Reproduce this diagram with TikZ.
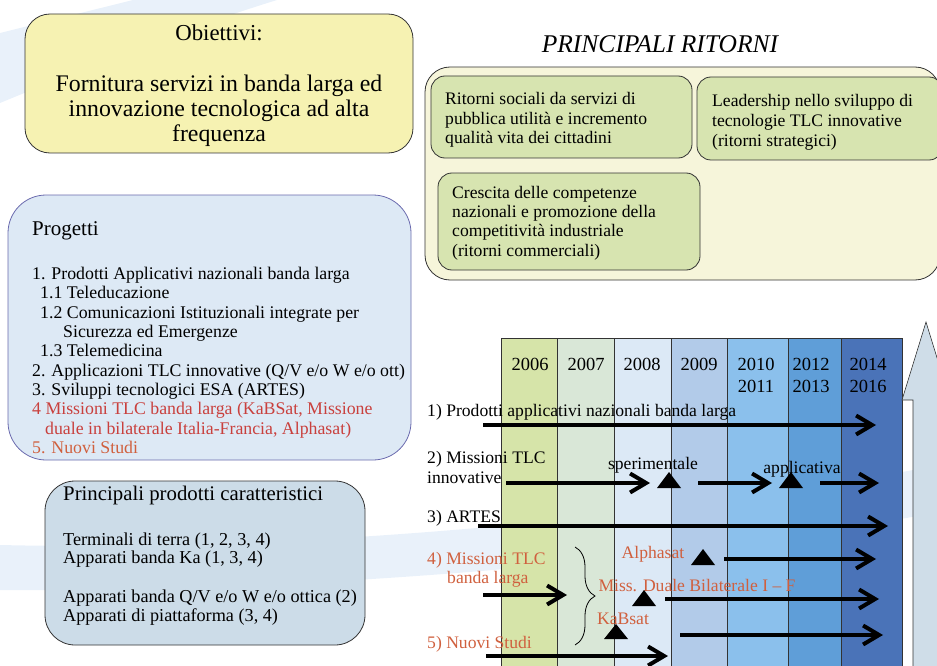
\documentclass[tikz,border=0pt]{standalone}
\usepackage{fontspec}
\setmainfont{Liberation Serif}
\usetikzlibrary{arrows.meta,decorations.pathreplacing}

\definecolor{swoosh}{HTML}{E9F1FA}
\definecolor{objfill}{HTML}{F6F2B2}
\definecolor{retfill}{HTML}{F6F5DA}
\definecolor{grnfill}{HTML}{D7E4B0}
\definecolor{prjfill}{HTML}{DDE9F5}
\definecolor{prjline}{HTML}{6A6AAE}
\definecolor{prdfill}{HTML}{CCDCE8}
\definecolor{edge}{HTML}{333333}
\definecolor{redtxt}{HTML}{C9403D}
\definecolor{orgtxt}{HTML}{D0603E}
\definecolor{yrA}{HTML}{D6E4A9}
\definecolor{yrB}{HTML}{D9E7D7}
\definecolor{yrC}{HTML}{DCE9F6}
\definecolor{yrD}{HTML}{B2CBE9}
\definecolor{yrE}{HTML}{8BC0EC}
\definecolor{yrF}{HTML}{5F9ED8}
\definecolor{yrG}{HTML}{4A73B8}
\definecolor{upfill}{HTML}{CFDDE8}

\newcommand\setfs[2]{\fontsize{#1}{#2}\selectfont}

\tikzset{
  rbox/.style={draw=edge, line width=0.8pt, inner sep=0pt},
  txt/.style={inner sep=0pt, align=left, text=black},
  yr/.style={inner sep=0pt, align=center, font=\setfs{18.5}{22}},
  tl/.style={inner sep=0pt, align=left, anchor=west, font=\setfs{17.6}{20}},
  tag/.style={inner sep=0pt, font=\setfs{17.6}{18}},
  bar/.style={line width=4pt, -{Straight Barb[length=16pt,width=19pt]}},
  milestone/.style={fill=black},
  col/.style={draw=edge, line width=0.8pt},
}

\begin{document}
\begin{tikzpicture}[x=1pt,y=-1pt]
\useasboundingbox (0,0) rectangle (937,666);

% faint background swooshes
\fill[swoosh] (0,33) -- (133,0) -- (277,0) .. controls (180,30) and (80,70) .. (0,103) -- cycle;
\fill[swoosh] (0,545) .. controls (300,552) and (650,520) .. (940,465)
  -- (940,512) .. controls (650,565) and (300,592) .. (0,590) -- cycle;

% objectives
\node[rbox, fill=objfill, rounded corners=25pt, minimum width=388pt, minimum height=139pt] (obj) at (219,83.5) {};
\node[txt, align=center, font=\setfs{23.8}{25.3}] (objtxt) at (219,86)
  {{\fontsize{22.8}{25.3}\selectfont Obiettivi:}\\[25.3pt]Fornitura servizi in banda larga ed\\innovazione tecnologica ad alta\\frequenza};

% main returns
\node[inner sep=0pt, font=\setfs{25.5}{28}\itshape] (rettitle) at (660,44) {PRINCIPALI RITORNI};
\node[rbox, fill=retfill, rounded corners=25pt, minimum width=515pt, minimum height=213pt] (ret) at (682.5,173.5) {};
\node[rbox, fill=grnfill, rounded corners=14pt, minimum width=261pt, minimum height=82pt] (retA) at (561.5,117) {};
\node[rbox, fill=grnfill, rounded corners=14pt, minimum width=246pt, minimum height=83pt] (retB) at (820,118.5) {};
\node[rbox, fill=grnfill, rounded corners=14pt, minimum width=262pt, minimum height=97pt] (retC) at (569,221.5) {};
\node[txt, anchor=west, font=\setfs{17.6}{19.3}] (retAtxt) at (445,120)
  {Ritorni sociali da servizi di\\pubblica utilit\`a e incremento\\qualit\`a vita dei cittadini};
\node[txt, anchor=west, font=\setfs{17.6}{19.8}] (retBtxt) at (712,122)
  {Leadership nello sviluppo di\\tecnologie TLC innovative\\(ritorni strategici)};
\node[txt, anchor=west, font=\setfs{17.6}{19.3}] (retCtxt) at (452,223)
  {Crescita delle competenze\\nazionali e promozione della\\competitivit\`a industriale\\(ritorni commerciali)};

% projects
\node[draw=prjline, line width=0.8pt, fill=prjfill, rounded corners=38pt, minimum width=403pt, minimum height=265pt, inner sep=0pt] (prj) at (209.5,327.5) {};
\node[txt, anchor=west, font=\setfs{21}{22}] (prjtitle) at (32,231) {Progetti};
\node[txt, anchor=west, font=\setfs{17.8}{19.35}] (prjlist) at (32,360.5)
  {1. Prodotti Applicativi nazionali banda larga\\
   \hspace*{8pt}1.1 Teleducazione\\
   \hspace*{8pt}1.2 Comunicazioni Istituzionali integrate per\\
   \hspace*{31pt}Sicurezza ed Emergenze\\
   \hspace*{8pt}1.3 Telemedicina\\
   2. Applicazioni TLC innovative (Q/V e/o W e/o ott)\\
   3. Sviluppi tecnologici ESA (ARTES)\\
   \textcolor{redtxt}{4 Missioni TLC banda larga (KaBSat, Missione}\\
   \hspace*{13pt}\textcolor{redtxt}{duale in bilaterale Italia-Francia, Alphasat)}\\
   \textcolor{orgtxt}{5. Nuovi Studi}};

% products
\node[rbox, fill=prdfill, rounded corners=30pt, minimum width=320pt, minimum height=164pt] (prd) at (205,563) {};
\node[txt, anchor=west, font=\setfs{20.8}{22}] (prdtitle) at (63,495) {Principali prodotti caratteristici};
\node[txt, anchor=west, font=\setfs{18.2}{18.5}] (prdA) at (63,550)
  {Terminali di terra (1, 2, 3, 4)\\Apparati banda Ka (1, 3, 4)};
\node[txt, anchor=west, font=\setfs{18.2}{18.5}] (prdB) at (63,607.5)
  {Apparati banda Q/V e/o W e/o ottica (2)\\Apparati di piattaforma (3, 4)};

% timeline columns
\fill[yrA] (501,338) rectangle (557,670);
\fill[yrB] (557,338) rectangle (614,670);
\fill[yrC] (614,338) rectangle (671,670);
\fill[yrD] (671,338) rectangle (727,670);
\fill[yrE] (727,338) rectangle (788,670);
\fill[yrF] (788,338) rectangle (841,670);
\fill[yrG] (841,338) rectangle (902,670);
\draw[col] (501,670) -- (501,338) -- (902,338) -- (902,670);
\foreach \cx in {557,614,671,727,788,841} \draw[col] (\cx,338) -- (\cx,670);

% growth arrow
\draw[draw=edge, line width=0.6pt, fill=upfill] (913,670) -- (913,400) -- (902,400) -- (926,322) -- (950,400) -- (939,400) -- (939,670);

% years
\node[yr] (y06) at (530,364) {2006};
\node[yr] (y07) at (586,364) {2007};
\node[yr] (y08) at (642,364) {2008};
\node[yr] (y09) at (699,364) {2009};
\node[yr] (y10) at (756,375) {2010\\2011};
\node[yr] (y12) at (811,375) {2012\\2013};
\node[yr] (y14) at (868,375) {2014\\2016};

% line labels
\node[tl] (l1) at (427,412.5) {1) Prodotti applicativi nazionali banda larga};
\node[tl] (l2) at (427,467.5) {2) Missioni TLC\\innovative};
\node[tl] (l3) at (427,518.5) {3) ARTES};
\node[tl, text=orgtxt, font=\setfs{17.6}{19}] (l4) at (427,570) {4) Missioni TLC\\\hspace*{20pt}banda larga};
\node[tl, text=orgtxt] (l5) at (427,644.5) {5) Nuovi Studi};
\node[tag] (sper) at (653,465.5) {sperimentale};
\node[tag] (appl) at (802,469.5) {applicativa};
\node[tag, text=orgtxt] (alph) at (653,554.5) {Alphasat};
\node[tag, text=orgtxt] (duale) at (697,585.5) {Miss. Duale Bilaterale I -- F};
\node[tag, text=orgtxt] (kab) at (623,618.5) {KaBsat};

% milestones
\fill[milestone] (657,488) -- (669,472) -- (681,488) -- cycle;
\fill[milestone] (779,488) -- (791,472) -- (803,488) -- cycle;
\fill[milestone] (691,565) -- (703,549) -- (715,565) -- cycle;
\fill[milestone] (632,606) -- (644,590) -- (656,606) -- cycle;
\fill[milestone] (604,639) -- (616,624) -- (628,639) -- cycle;

% arrow end points
\coordinate (a1s) at (483,425);  \coordinate (a1e) at (876,425);
\coordinate (a2s) at (506,483);  \coordinate (a2e) at (650,483);
\coordinate (a2bs) at (698,483); \coordinate (a2be) at (772,483);
\coordinate (a2cs) at (820,483); \coordinate (a2ce) at (879,483);
\coordinate (a3s) at (478,526);  \coordinate (a3e) at (888,526);
\coordinate (a4s) at (483,595);  \coordinate (a4e) at (567,595);
\coordinate (alS) at (724,559);  \coordinate (alE) at (876,559);
\coordinate (duS) at (665,599);  \coordinate (duE) at (879,599);
\coordinate (kaS) at (680,635);  \coordinate (kaE) at (883,635);
\coordinate (a5s) at (486,656);  \coordinate (a5e) at (668,656);
\coordinate (brT) at (575,547);  \coordinate (brB) at (575,645);

\draw[bar] (a1s) -- (a1e);
\draw[bar] (a2s) -- (a2e);
\draw[bar] (a2bs) -- (a2be);
\draw[bar] (a2cs) -- (a2ce);
\draw[bar] (a3s) -- (a3e);
\draw[bar] (a4s) -- (a4e);
\draw[bar] (alS) -- (alE);
\draw[bar] (duS) -- (duE);
\draw[bar] (kaS) -- (kaE);
\draw[bar] (a5s) -- (a5e);

% brace grouping the broadband missions
\draw[line width=0.8pt, decorate, decoration={brace, amplitude=20pt}] (brT) -- (brB);
\end{tikzpicture}
\end{document}
